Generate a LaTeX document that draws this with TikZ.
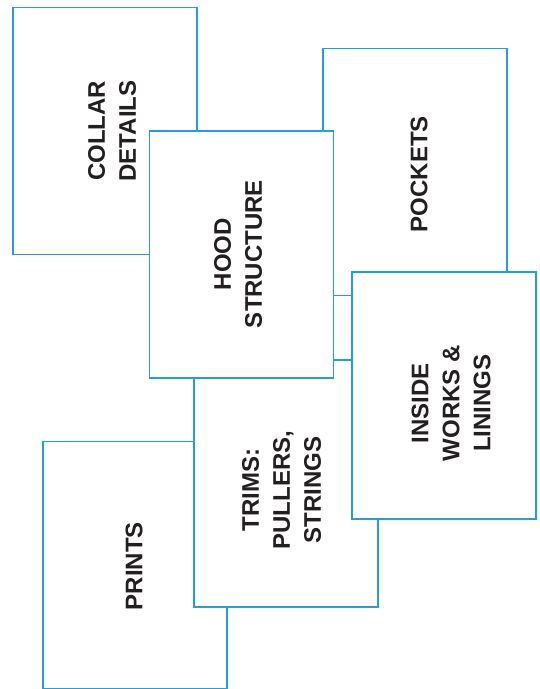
\documentclass[tikz,border=0pt]{standalone}
\usepackage{fontspec}
\setmainfont{Liberation Sans}
\definecolor{frame}{RGB}{35,158,218}
\definecolor{ink}{RGB}{35,31,32}

\begin{document}
\begin{tikzpicture}[x=1pt, y=-1pt,
    panel/.style={draw=frame, fill=white, line width=1.6pt, minimum width=184pt, minimum height=247pt, inner sep=0pt},
    lbl/.style={rotate=90, align=center, text=ink, font=\fontsize{24}{31}\selectfont\bfseries}]
  \useasboundingbox (0,0) rectangle (539,689);
  % back panels first, later ones cover their edges
  \node[panel] (collar) at (105,131) {};
  \node[lbl] (collar-txt) at (112,131) {COLLAR\\DETAILS};
  \node[panel] (pockets) at (415,172) {};
  \node[lbl] (pockets-txt) at (419,174) {POCKETS};
  \node[panel] (prints) at (135,565) {};
  \node[lbl] (prints-txt) at (134,566) {PRINTS};
  \node[panel] (trims) at (286,483.5) {};
  \node[lbl] (trims-txt) at (281.5,490) {TRIMS:\\PULLERS,\\STRINGS};
  \node[panel] (hood) at (241.5,254.5) {};
  \node[lbl] (hood-txt) at (238,254) {HOOD\\STRUCTURE};
  \node[panel] (inside) at (444,395.5) {};
  \node[lbl] (inside-txt) at (451,403) {INSIDE\\WORKS \&\\LININGS};
\end{tikzpicture}
\end{document}
